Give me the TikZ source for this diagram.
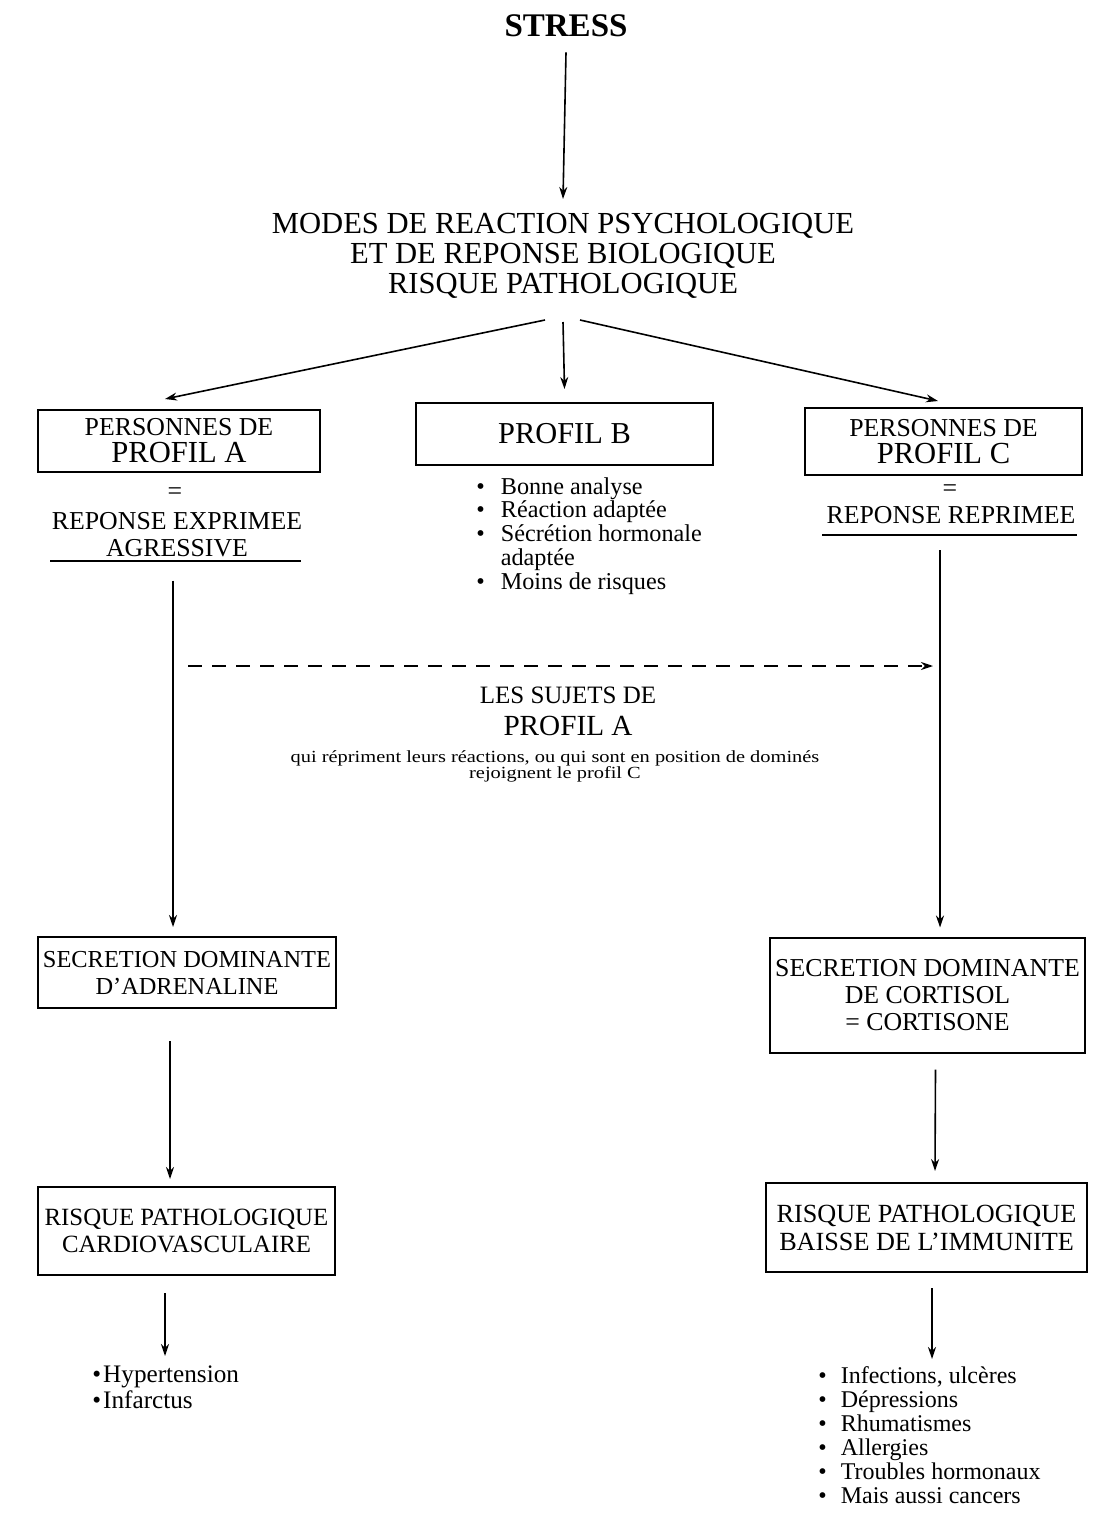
\documentclass[tikz,border=0pt]{standalone}
\usepackage{fontspec}
\setmainfont{Liberation Serif}
\usetikzlibrary{arrows.meta}
\begin{document}
\begin{tikzpicture}[x=0.5pt,y=-0.5pt,
  arr/.style={line width=0.8pt,-{Stealth[length=6pt,width=4pt]}},
  dasharr/.style={line width=0.8pt,dash pattern=on 7pt off 5pt,-{Stealth[length=6pt,width=4pt]}},
  box/.style={draw,line width=1pt,inner sep=0pt,align=center},
  txt/.style={inner sep=0pt,align=center},
  body/.style={font=\fontsize{12.9}{13.5}\selectfont},
  lst/.style={inner sep=0pt}
]
\useasboundingbox (0,0) rectangle (1094,1513);

\node[txt,font=\bfseries\fontsize{16.5}{18}\selectfont] (stress) at (566,26) {STRESS};

\node[txt,font=\fontsize{15.3}{15}\selectfont] (modes) at (563,256)
  {MODES DE REACTION PSYCHOLOGIQUE\\ET DE REPONSE BIOLOGIQUE\\RISQUE PATHOLOGIQUE};

% boxes row 1
\node[box,minimum width=141pt,minimum height=31pt,body] (boxA) at (179,441)
  {PERSONNES DE\\{\fontsize{15.3}{13.5}\selectfont PROFIL A}};
\node[box,minimum width=148.5pt,minimum height=31pt,font=\fontsize{15.2}{14}\selectfont] (boxB) at (564.5,434)
  {PROFIL B};
\node[box,minimum width=138.5pt,minimum height=33.5pt,body] (boxC) at (943.5,441.5)
  {PERSONNES DE\\{\fontsize{15.3}{13.5}\selectfont PROFIL C}};

\node[txt,body] (eqA) at (175,494) {=};
\node[txt,body] (repA) at (177,535) {REPONSE EXPRIMEE\\AGRESSIVE};
\coordinate (ulA1) at (50,561);
\coordinate (ulA2) at (301,561);
\draw[line width=1pt] (ulA1) -- (ulA2);

\node[txt,body] (eqC) at (950,491) {=};
\node[txt,body] (repC) at (951,515) {REPONSE REPRIMEE};
\coordinate (ulC1) at (822,535);
\coordinate (ulC2) at (1077,535);
\draw[line width=1pt] (ulC1) -- (ulC2);

\node[lst,anchor=north west,font=\fontsize{12.1}{11.5}\selectfont] (listB) at (476,477)
 {\begin{tabular}{@{}l@{\hspace{8pt}}l@{}}
 •&Bonne analyse\\
 •&Réaction adaptée\\
 •&Sécrétion hormonale\\
 &adaptée\\
 •&Moins de risques
 \end{tabular}};

% middle text
\node[txt,font=\fontsize{12.5}{13}\selectfont] (sujets) at (568,695) {LES SUJETS DE};
\node[txt,font=\fontsize{14.6}{14}\selectfont] (profA2) at (568,726) {PROFIL A};
\node[txt,font=\fontsize{8.5}{8}\selectfont] (small) at (555,766)
  {\scalebox{1.2}[1]{qui répriment leurs réactions, ou qui sont en position de dominés}\\\scalebox{1.2}[1]{rejoignent le profil C}};

% boxes row 2
\node[box,minimum width=149pt,minimum height=35.5pt,font=\fontsize{12.2}{13.5}\selectfont] (secA) at (187,972.5)
  {SECRETION DOMINANTE\\D'ADRENALINE};
\node[box,minimum width=157.5pt,minimum height=57.5pt,body] (secC) at (927.5,995)
  {SECRETION DOMINANTE\\DE CORTISOL\\= CORTISONE};

% boxes row 3
\node[box,minimum width=148.5pt,minimum height=44pt,font=\fontsize{12.4}{13.5}\selectfont] (risA) at (186.5,1231)
  {RISQUE PATHOLOGIQUE\\CARDIOVASCULAIRE};
\node[box,minimum width=160.5pt,minimum height=44.5pt,font=\fontsize{13.1}{14}\selectfont] (risC) at (926.5,1227.5)
  {RISQUE PATHOLOGIQUE\\BAISSE DE L'IMMUNITE};

% lists bottom
\node[lst,anchor=north west,font=\fontsize{12.6}{13}\selectfont] (listA) at (92,1364)
 {\begin{tabular}{@{}l@{\hspace{1pt}}l@{}}
 •&Hypertension\\
 •&Infarctus
 \end{tabular}};
\node[lst,anchor=north west,font=\fontsize{12}{12}\selectfont] (listC) at (818,1366)
 {\begin{tabular}{@{}l@{\hspace{7pt}}l@{}}
 •&Infections, ulcères\\
 •&Dépressions\\
 •&Rhumatismes\\
 •&Allergies\\
 •&Troubles hormonaux\\
 •&Mais aussi cancers
 \end{tabular}};

% connectors
\draw[arr] ([yshift=-7.5pt]stress.south) -- ([yshift=7pt]modes.north);
\draw[arr] ([xshift=-9pt,yshift=-10.5pt]modes.south) -- ([xshift=-7pt,yshift=5pt]boxA.north);
\draw[arr] ([yshift=-11.5pt]modes.south) -- ([yshift=6.5pt]boxB.north);
\draw[arr] ([xshift=8.5pt,yshift=-10.5pt]modes.south) -- ([xshift=-2.75pt,yshift=3pt]boxC.north);

\draw[arr] ([xshift=-2pt,yshift=-11.5pt]repA.south) -- ([xshift=-7pt,yshift=4.5pt]secA.north);
\draw[arr] ([xshift=-5.5pt,yshift=-13pt]repC.south) -- ([xshift=6.25pt,yshift=4.5pt]secC.north);

\coordinate (dA) at (188,666);
\coordinate (dC) at (933,666);
\draw[dasharr] (dA) -- (dC);

\draw[arr] ([xshift=-8.5pt,yshift=-16pt]secA.south) -- ([xshift=-8.25pt,yshift=3.5pt]risA.north);
\draw[arr] ([xshift=4pt,yshift=-8pt]secC.south) -- ([xshift=4.25pt,yshift=5.5pt]risC.north);
\draw[arr] ([xshift=-10.75pt,yshift=-8.5pt]risA.south) -- ([xshift=-10.75pt,yshift=-40pt]risA.south);
\draw[arr] ([xshift=2.75pt,yshift=-7.5pt]risC.south) -- ([xshift=2.75pt,yshift=-43pt]risC.south);
\end{tikzpicture}
\end{document}
